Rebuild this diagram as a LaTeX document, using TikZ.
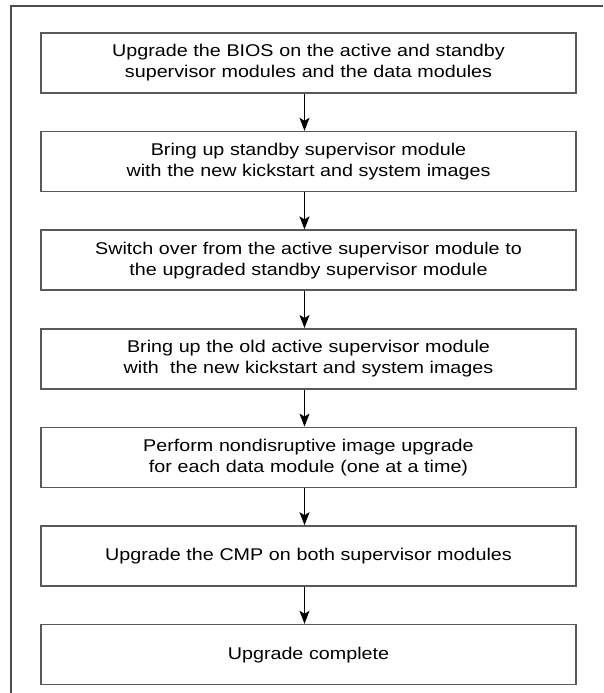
\documentclass[tikz,border=0pt]{standalone}
\usepackage{fontspec}
\setmainfont{Liberation Sans}[FakeStretch=1.16]
\usetikzlibrary{arrows.meta}
\usetikzlibrary{positioning}

\tikzset{
	stepbox/.style={draw=black!65,line width=1.6pt,minimum width=535pt,minimum height=60pt,
		text width=520pt,align=center,inner sep=0pt,font=\fontsize{17}{21}\selectfont},
	flow/.style={->,line width=1.2pt}
}

\begin{document}
\begin{tikzpicture}[>/.tip={Stealth[width=10pt,length=13pt,inset=3pt]}]
	\useasboundingbox (0,0) rectangle (603pt,-693pt);
	\draw[black!70,line width=1.5pt] (11pt,-693pt) -- (11pt,-6pt) -- (603pt,-6pt);

	\draw (308.5pt,-63pt) node (bios) [stepbox] {Upgrade the BIOS on the active and standby\\supervisor modules and the data modules};
	\node (standby) [stepbox,below=37pt of bios] {Bring up standby supervisor module\\with the new kickstart and system images};
	\node (switch) [stepbox,below=37pt of standby] {Switch over from the active supervisor module to\\the upgraded standby supervisor module};
	\node (oldactive) [stepbox,below=37pt of switch] {Bring up the old active supervisor module\\with\ \ the new kickstart and system images};
	\node (datamod) [stepbox,below=37pt of oldactive] {Perform nondisruptive image upgrade\\for each data module (one at a time)};
	\node (cmp) [stepbox,below=37pt of datamod] {Upgrade the CMP on both supervisor modules};
	\node (done) [stepbox,below=37pt of cmp] {Upgrade complete};

	\path[flow] ([xshift=-4pt]bios.south) edge ([xshift=-4pt]standby.north);
	\path[flow] ([xshift=-4pt]standby.south) edge ([xshift=-4pt]switch.north);
	\path[flow] ([xshift=-4pt]switch.south) edge ([xshift=-4pt]oldactive.north);
	\path[flow] ([xshift=-4pt]oldactive.south) edge ([xshift=-4pt]datamod.north);
	\path[flow] ([xshift=-4pt]datamod.south) edge ([xshift=-4pt]cmp.north);
	\path[flow] ([xshift=-4pt]cmp.south) edge ([xshift=-4pt]done.north);
\end{tikzpicture}
\end{document}
